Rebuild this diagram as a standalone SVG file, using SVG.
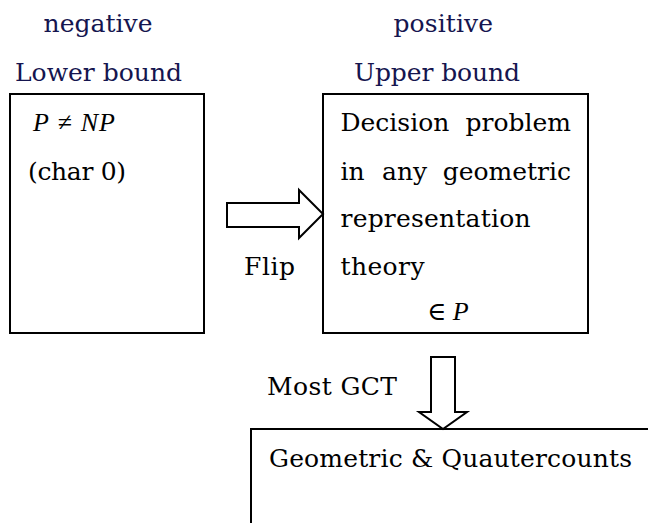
<svg xmlns="http://www.w3.org/2000/svg" width="648" height="523" viewBox="0 0 648 523">
<style>
  .hdr { font-family: "DejaVu Serif", "Liberation Serif", serif; font-size: 25px; fill: #15154f; }
  .t { font-family: "DejaVu Serif", "Liberation Serif", serif; font-size: 25px; fill: #000; }
  .m { font-family: "Liberation Serif", "DejaVu Serif", serif; font-size: 26px; fill: #000; }
  .mi { font-style: italic; }
  .box { fill: #fff; stroke: #000; stroke-width: 2; }
  .arrow { fill: #fff; stroke: #000; stroke-width: 2; stroke-linejoin: miter; }
</style>
<rect x="0" y="0" width="648" height="523" fill="#fff"/>

<g id="headers">
  <text class="hdr" x="43.5" y="32" textLength="109">negative</text>
  <text class="hdr" x="393.5" y="32" textLength="99.5">positive</text>
  <text class="hdr" x="15" y="81" textLength="167">Lower bound</text>
  <text class="hdr" x="354" y="81" textLength="166">Upper bound</text>
</g>

<g id="lower-box">
  <rect class="box" x="10" y="94" width="194" height="239"/>
  <text class="m" x="33" y="131" textLength="82"><tspan class="mi">P</tspan> ≠ <tspan class="mi">NP</tspan></text>
  <text class="t" x="28" y="180" textLength="98">(char 0)</text>
</g>

<g id="upper-box">
  <rect class="box" x="323" y="94" width="265" height="239"/>
  <text class="t" x="340.5" y="131">Decision</text>
  <text class="t" x="571" y="131" text-anchor="end">problem</text>
  <text class="t" x="340.5" y="180">in</text>
  <text class="t" x="382" y="180">any</text>
  <text class="t" x="571" y="180" text-anchor="end">geometric</text>
  <text class="t" x="340.5" y="227" textLength="190">representation</text>
  <text class="t" x="340.5" y="275" textLength="84">theory</text>
  <text class="m" x="427" y="320">∈ <tspan class="mi">P</tspan></text>
</g>

<g id="bottom-box">
  <path class="box" fill="none" d="M251,523 V429 H650"/>
  <text class="t" x="269" y="467" textLength="363">Geometric &amp; Quautercounts</text>
</g>

<g id="connectors">
  <polygon class="arrow" points="227,203 299,203 299,190 323,214 299,238 299,227 227,227"/>
  <text class="t" x="244" y="275" textLength="51">Flip</text>
  <polygon class="arrow" points="431,357 455,357 455,412 467,412 443,429 419,412 431,412"/>
  <text class="t" x="267" y="395" textLength="130">Most GCT</text>
</g>
</svg>
